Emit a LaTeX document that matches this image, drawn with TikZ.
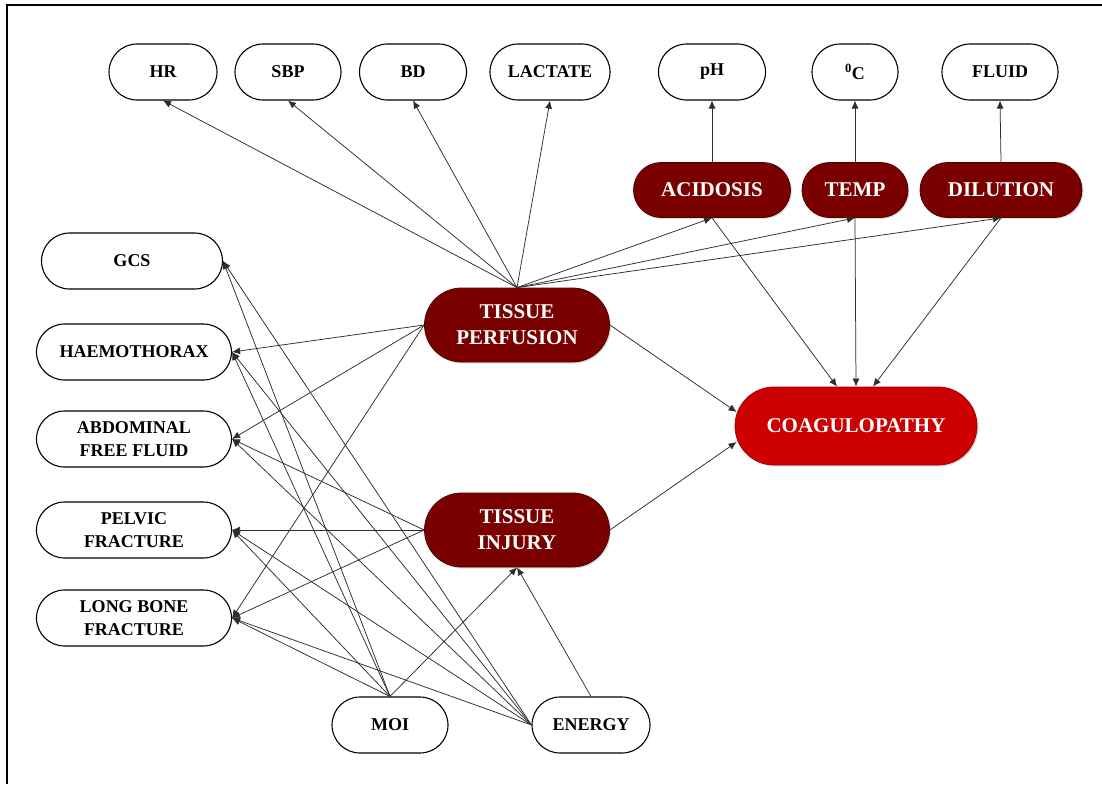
\documentclass[tikz,border=0pt]{standalone}
\usepackage{fontspec}
\setmainfont{Liberation Serif}
\usetikzlibrary{shapes.misc,arrows.meta,calc,shadows}
\definecolor{maroon}{RGB}{122,0,0}
\definecolor{maroonedge}{RGB}{80,0,0}
\definecolor{coagred}{RGB}{204,0,0}
\definecolor{coagedge}{RGB}{170,0,0}
\definecolor{linegray}{RGB}{45,45,45}
\tikzset{
  wnode/.style={rounded rectangle, draw=black, line width=1.1pt, fill=white,
    font=\bfseries\fontsize{18}{22.5}\selectfont, align=center,
    minimum height=56pt, inner sep=0pt},
  rnode/.style={rounded rectangle, draw=maroonedge, line width=0.8pt, fill=maroon,
    text=white, font=\bfseries\fontsize{21}{26}\selectfont, align=center,
    minimum height=55pt, inner sep=0pt,
    drop shadow={opacity=0.25, shadow xshift=1.5pt, shadow yshift=-1.5pt}},
  cnode/.style={rnode, draw=coagedge, fill=coagred},
  link/.style={draw=linegray, line width=0.75pt, -{Latex[length=8pt,width=7pt]}},
}
\begin{document}
\begin{tikzpicture}[x=1pt,y=-1pt]
\useasboundingbox (0,0) rectangle (1102,784);
\fill[white] (0,0) rectangle (1102,784);
\draw[line width=1.4pt] (7,784) -- (7,5) -- (1102,5);

% top row
\node[wnode, minimum width=108pt] (hr) at (163,72) {HR};
\node[wnode, minimum width=106pt] (sbp) at (288,72) {SBP};
\node[wnode, minimum width=107pt] (bd) at (413,72) {BD};
\node[wnode, minimum width=120pt] (lac) at (550,72) {LACTATE};
\node[wnode, minimum width=107pt] (ph) at (712,72) {pH};
\node[wnode, minimum width=86pt] (degc) at (855,72) {\textsuperscript{0}C};
\node[wnode, minimum width=116pt] (fluid) at (1000,72) {FLUID};

% second row
\node[rnode, minimum width=157pt] (acid) at (712,190) {ACIDOSIS};
\node[rnode, minimum width=106pt] (temp) at (855,190) {TEMP};
\node[rnode, minimum width=162pt] (dil) at (1001,190) {DILUTION};

% left column
\node[wnode, minimum width=181pt] (gcs) at (132,261) {GCS};
\node[wnode, minimum width=195pt] (haemo) at (134,352) {HAEMOTHORAX};
\node[wnode, minimum width=195pt] (abd) at (134,439) {ABDOMINAL\\FREE FLUID};
\node[wnode, minimum width=195pt] (pel) at (134,530) {PELVIC\\FRACTURE};
\node[wnode, minimum width=195pt] (long) at (134,618) {LONG BONE\\FRACTURE};

% centre
\node[rnode, minimum width=185pt, minimum height=74pt] (tp) at (517,325) {TISSUE\\PERFUSION};
\node[rnode, minimum width=185pt, minimum height=74pt] (ti) at (517,530) {TISSUE\\INJURY};
\node[cnode, minimum width=242pt, minimum height=78pt] (coag) at (856,426) {COAGULOPATHY};

% bottom
\node[wnode, minimum width=116pt] (moi) at (390,725) {MOI};
\node[wnode, minimum width=118pt] (energy) at (591,725) {ENERGY};

% tissue perfusion -> measurements
\foreach \t in {hr,sbp,bd,lac,acid,temp,dil}
  \draw[link] (tp.north) -- (\t.south);
\foreach \t in {haemo,abd,long}
  \draw[link] (tp.west) -- (\t.east);

% tissue injury -> injuries
\foreach \t in {pel,abd,long}
  \draw[link] (ti.west) -- (\t.east);

% MOI and energy
\foreach \t in {gcs,haemo,pel,long}
  \draw[link] (moi.north) -- (\t.east);
\draw[link] (moi.north) -- (ti.south);
\foreach \t in {gcs,haemo,abd,pel,long}
  \draw[link] (energy.west) -- (\t.east);
\draw[link] (energy.north) -- (ti.south);

% second row -> top row
\draw[link] (acid.north) -- (ph.south);
\draw[link] (temp.north) -- (degc.south);
\draw[link] (dil.north) -- (fluid.south);

% -> coagulopathy
\draw[link] (acid.south) -- ($(coag.north)+(-19,0)$);
\draw[link] (temp.south) -- (coag.north);
\draw[link] (dil.south) -- ($(coag.north)+(17,0)$);
\draw[link] (tp.east) -- ($(coag.west)+(2,-14)$);
\draw[link] (ti.east) -- ($(coag.west)+(2,16)$);
\end{tikzpicture}
\end{document}
